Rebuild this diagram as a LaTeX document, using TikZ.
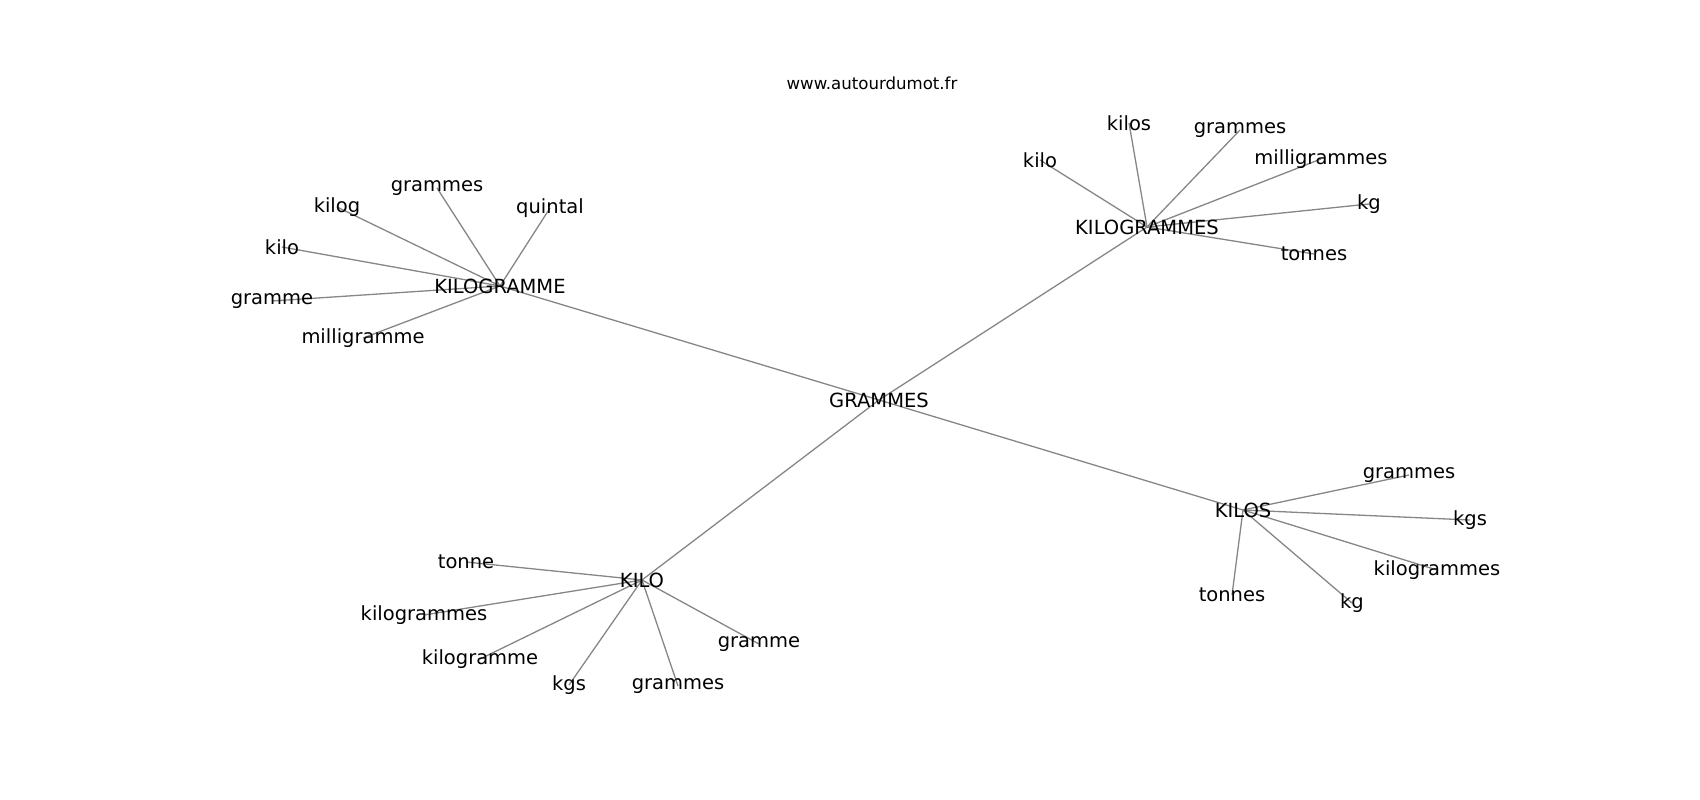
\documentclass[tikz,border=0pt]{standalone}
\usepackage{fontspec}
\setmainfont{DejaVu Sans}
\pgfdeclarelayer{bg}
\pgfsetlayers{bg,main}
\tikzset{
  lbl/.style={inner sep=0pt, outer sep=0pt, text=black, font=\fontsize{19.5}{23}\selectfont},
  ttl/.style={inner sep=0pt, text=black, font=\fontsize{16.6}{19}\selectfont},
  edge/.style={draw=gray!95, line width=1.3pt}
}
\begin{document}
\begin{tikzpicture}[x=1pt,y=-1pt]
\useasboundingbox (0,0) rectangle (1700,800);
\node[ttl] (title) at (872,83) {www.autourdumot.fr};
% centre
\node[lbl] (G) at (879,400) {GRAMMES};
% KILOGRAMME cluster
\node[lbl] (KG) at (500,286) {KILOGRAMME};
\node[lbl] (kg1) at (437,188) {grammes};
\node[lbl] (kg2) at (337,207) {kilog};
\node[lbl] (kg3) at (550,208) {quintal};
\node[lbl] (kg4) at (282,247) {kilo};
\node[lbl] (kg5) at (272,301) {gramme};
\node[lbl] (kg6) at (363,338) {milligramme};
% KILOGRAMMES cluster
\node[lbl] (KGS) at (1147,227) {KILOGRAMMES};
\node[lbl] (ks1) at (1129,123) {kilos};
\node[lbl] (ks2) at (1240,130) {grammes};
\node[lbl] (ks3) at (1040,160) {kilo};
\node[lbl] (ks4) at (1321,159) {milligrammes};
\node[lbl] (ks5) at (1369,204) {kg};
\node[lbl] (ks6) at (1314,254) {tonnes};
% KILOS cluster
\node[lbl] (KS) at (1243,510) {KILOS};
\node[lbl] (k1) at (1409,475) {grammes};
\node[lbl] (k2) at (1470,520) {kgs};
\node[lbl] (k3) at (1437,570) {kilogrammes};
\node[lbl] (k4) at (1232,595) {tonnes};
\node[lbl] (k5) at (1352,603) {kg};
% KILO cluster
\node[lbl] (K) at (642,580) {KILO};
\node[lbl] (o1) at (466,562) {tonne};
\node[lbl] (o2) at (424,615) {kilogrammes};
\node[lbl] (o3) at (480,659) {kilogramme};
\node[lbl] (o4) at (569,685) {kgs};
\node[lbl] (o5) at (678,686) {grammes};
\node[lbl] (o6) at (759,644) {gramme};
\begin{pgfonlayer}{bg}
\foreach \a/\b in {G/KG,G/KGS,G/KS,G/K,
  KG/kg1,KG/kg2,KG/kg3,KG/kg4,KG/kg5,KG/kg6,
  KGS/ks1,KGS/ks2,KGS/ks3,KGS/ks4,KGS/ks5,KGS/ks6,
  KS/k1,KS/k2,KS/k3,KS/k4,KS/k5,
  K/o1,K/o2,K/o3,K/o4,K/o5,K/o6}
  \draw[edge] (\a.center) -- (\b.center);
\end{pgfonlayer}
\end{tikzpicture}
\end{document}
